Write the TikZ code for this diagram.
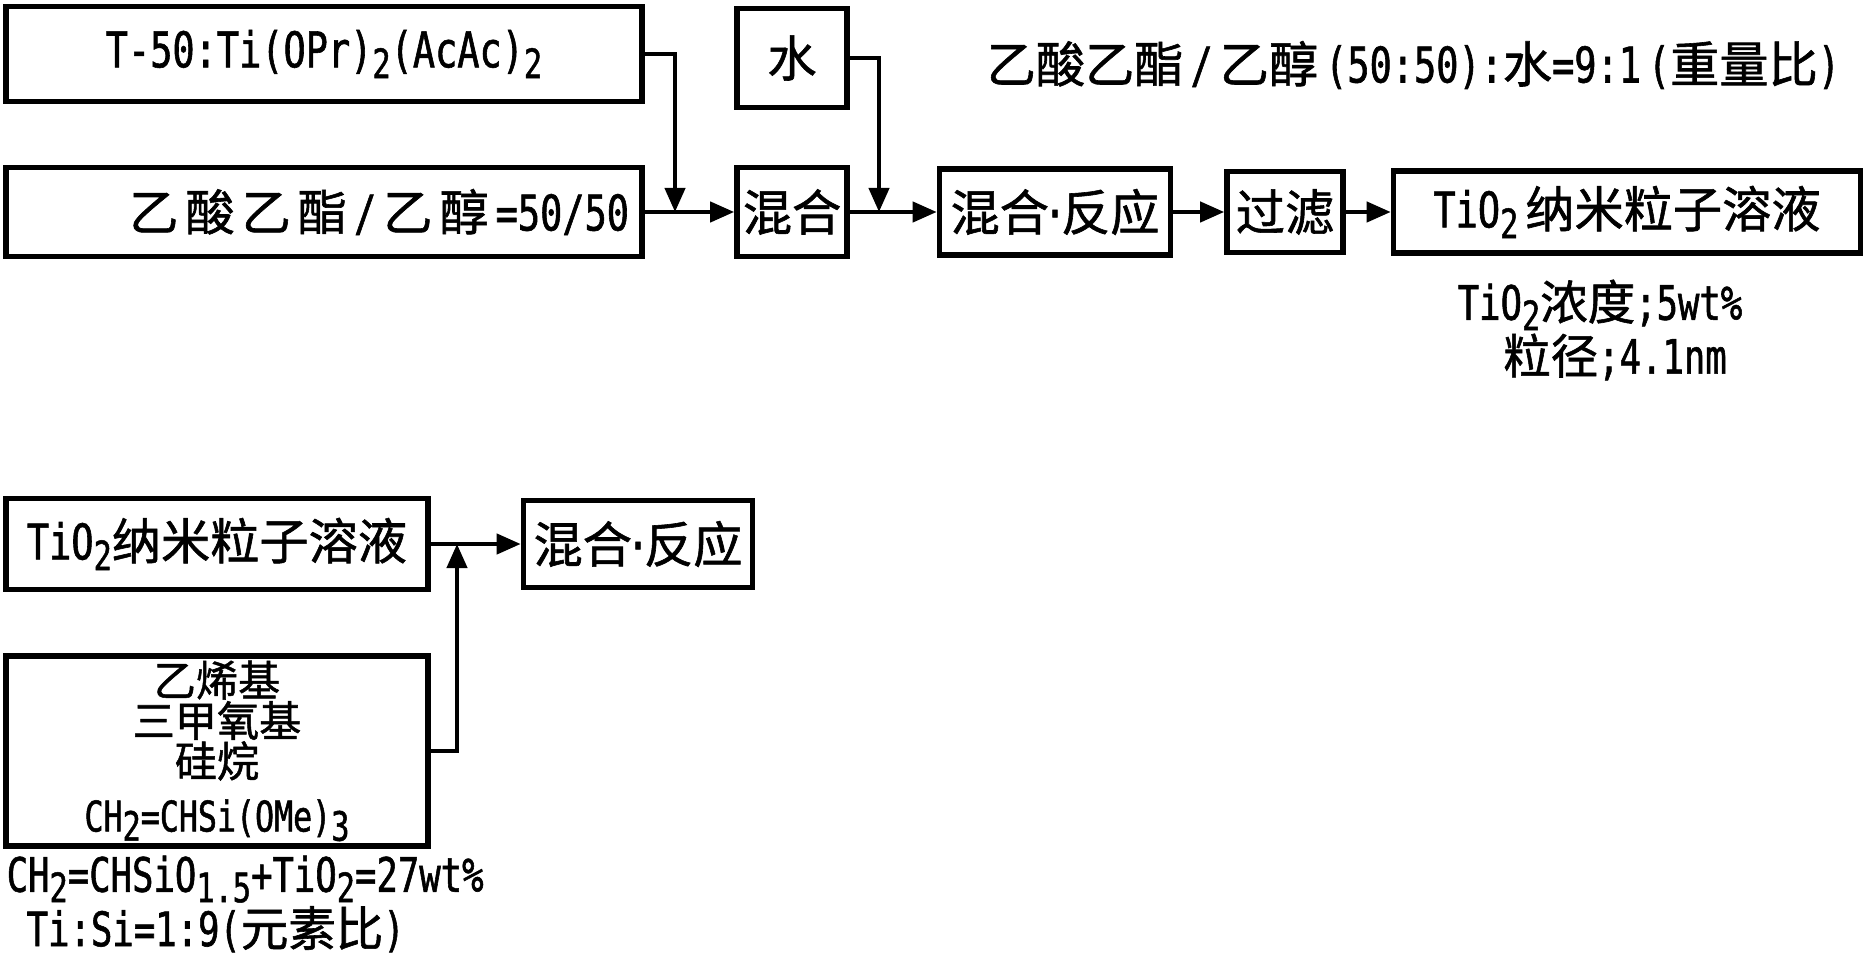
\documentclass[tikz,border=0pt]{standalone}
\usepackage{fontspec}
\setmainfont{Noto Sans CJK SC}[FakeBold=1.2]
\newfontfamily\monofont[FakeStretch=0.75, FakeBold=1.2]{DejaVu Sans Mono}
\newcommand{\lat}[1]{{\monofont #1}}
\newcommand{\subs}[1]{\raisebox{-0.4ex}{\fontsize{11.5}{11.5}\selectfont #1}}
\newcommand{\gp}{\hspace{0.07cm}}
\newcommand{\mdot}{\lat{\hspace{-0.05cm}·\hspace{-0.05cm}}}
\usetikzlibrary{positioning,arrows.meta}

\begin{document}
\begin{tikzpicture}[
    box/.style={draw, line width=1.6pt, inner sep=0pt, font=\fontsize{14}{16}\selectfont},
    lbl/.style={inner sep=0pt, font=\fontsize{14}{16}\selectfont},
    arr/.style={-{Triangle[length=0.24cm,width=0.2cm]}, line width=1.2pt}]
    \useasboundingbox (0,0) rectangle (18.63,-9.56);

    % upper flow
    \node[box, minimum width=6.36cm, minimum height=0.95cm] (t50) at (3.24,-0.54) {\lat{T-50:Ti(OPr)\subs{2}(AcAc)\subs{2}}};
    \node[box, minimum width=1.10cm, minimum height=0.99cm] (water) at (7.92,-0.58) {水};
    \node[box, minimum width=6.36cm, minimum height=0.89cm, text width=6.1cm, align=right] (solv) at (3.24,-2.12) {乙\gp 酸\gp 乙\gp 酯\gp\lat{/}\gp 乙\gp 醇\gp\lat{=50/50}};
    \node[box, minimum width=1.10cm, minimum height=0.89cm] (mix1) at (7.92,-2.12) {混合};
    \node[box, minimum width=2.31cm, minimum height=0.86cm] (mixr) at (10.55,-2.12) {混合\mdot 反应};
    \node[box, minimum width=1.16cm, minimum height=0.81cm] (filt) at (12.85,-2.12) {过滤};
    \node[box, minimum width=4.67cm, minimum height=0.82cm] (sol) at (16.27,-2.12) {\lat{TiO\subs{2}}\gp 纳米粒子溶液};

    \node[lbl, anchor=west] (ratio) at (9.86,-0.65) {乙酸乙酯\gp\lat{/}\gp 乙醇\gp\lat{(50:50):}水\lat{=9:1}\gp\lat{(}重量比\lat{)}};
    \node[lbl, align=center, font=\fontsize{13.5}{13.5}\selectfont] (conc) at (16.0,-3.3) {\lat{TiO\subs{2}}浓度\lat{;5wt\%}\\\hspace{0.3cm}粒径\lat{;4.1nm}};

    \coordinate (j1) at (6.75,-2.12);
    \coordinate (j2) at (8.79,-2.12);
    \draw[arr] (t50.east) -| (j1);
    \draw[arr] (water.east) -| (j2);
    \draw[arr] (solv) -- (mix1);
    \draw[arr] (mix1) -- (mixr);
    \draw[arr] (mixr) -- (filt);
    \draw[arr] (filt) -- (sol);

    % lower flow
    \node[box, minimum width=4.22cm, minimum height=0.91cm] (sol2) at (2.17,-5.44) {\lat{TiO\subs{2}}纳米粒子溶液};
    \node[box, minimum width=2.29cm, minimum height=0.87cm] (mixr2) at (6.38,-5.44) {混合\mdot 反应};
    \node[box, minimum width=4.22cm, minimum height=1.90cm, align=center, font=\fontsize{12}{11.5}\selectfont] (vinyl) at (2.17,-7.51) {乙烯基\\三甲氧基\\硅烷\\[4pt]\lat{CH\subs{2}=CHSi(OMe)\subs{3}}};

    \node[lbl, anchor=north west, align=left, font=\fontsize{13.5}{12}\selectfont] (wt) at (0.06,-8.55) {\lat{CH\subs{2}=CHSiO\subs{1.5}+TiO\subs{2}=27wt\%}\\\hspace{0.2cm}\lat{Ti:Si=1:9(}元素比\lat{)}};

    \coordinate (j3) at (4.57,-5.44);
    \draw[arr] (sol2) -- (mixr2);
    \draw[arr] (vinyl.east) -| (j3);
\end{tikzpicture}
\end{document}
